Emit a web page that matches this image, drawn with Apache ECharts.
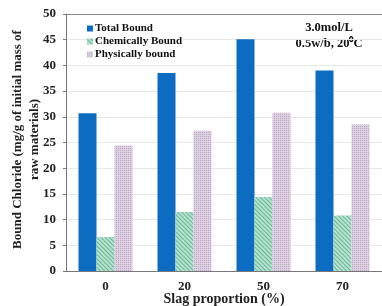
<!DOCTYPE html>
<html>
<head>
<meta charset="utf-8">
<script src="https://cdn.jsdelivr.net/npm/echarts@6/dist/echarts.min.js"></script>
<style>
  html, body { margin: 0; padding: 0; background: #fff; }
  #main { width: 382px; height: 306px; }
</style>
</head>
<body>
<div id="main"></div>
<script>
// 矿渣掺量
var categories = ['0', '20', '50', '70'];
// 结合氯离子数据 (mg/g)
var totalBound = [30.7, 38.5, 45.1, 39.0];
var chemBound = [6.6, 11.5, 14.4, 10.8];
var physBound = [24.4, 27.3, 30.8, 28.5];

var serif = 'Liberation Serif';
var myChart = echarts.init(document.getElementById('main'));

var option = {
    animation: false,
    backgroundColor: '#fff',
    grid: { left: 66, right: 0, top: 14, bottom: 35, outerBoundsMode: 'none', containLabel: false },
    legend: {
        orient: 'vertical',
        left: 82,
        top: 18,
        itemWidth: 6,
        itemHeight: 6,
        itemGap: 2,
        icon: 'rect',
        textStyle: { fontFamily: serif, fontWeight: 'bold', fontSize: 11, color: '#111', padding: [0, 0, 0, -3] },
        data: ['Total Bound', 'Chemically Bound', 'Physically bound']
    },
    graphic: [{
        type: 'text',
        x: 329,
        y: 21,
        style: {
            text: '3.0mol/L',
            font: 'bold 12.5px "Liberation Serif"',
            fill: '#111',
            align: 'center'
        }
    }, {
        type: 'text',
        x: 329,
        y: 37,
        style: {
            text: '0.5w/b, 20\u2070C',
            font: 'bold 12.5px "Liberation Serif"',
            fill: '#111',
            align: 'center'
        }
    }],
    xAxis: [{
        type: 'category',
        data: categories,
        axisLine: { lineStyle: { color: '#777', width: 1 } },
        axisTick: { show: false },
        axisLabel: { fontFamily: serif, fontWeight: 'bold', fontSize: 13, color: '#222', margin: 9 },
        name: 'Slag proportion (%)',
        nameLocation: 'middle',
        nameGap: 21,
        nameMoveOverlap: false,
        nameTextStyle: { fontFamily: serif, fontWeight: 'bold', fontSize: 14, color: '#222' }
    }, {
        type: 'category',
        position: 'top',
        data: categories,
        axisLine: { lineStyle: { color: '#888', width: 1 } },
        axisTick: { show: false },
        axisLabel: { show: false }
    }],
    yAxis: {
        type: 'value',
        min: 0,
        max: 50,
        interval: 5,
        axisLine: { show: true, lineStyle: { color: '#777', width: 1 } },
        axisTick: { show: true, inside: false, length: 3, lineStyle: { color: '#777' } },
        axisLabel: { fontFamily: serif, fontWeight: 'bold', fontSize: 13, color: '#222', margin: 10 },
        splitLine: { lineStyle: { color: '#e8e8e8' } },
        name: 'Bound Chloride (mg/g of initial mass of\nraw materials)',
        nameLocation: 'middle',
        nameGap: 23,
        nameMoveOverlap: false,
        nameTextStyle: { fontFamily: serif, fontWeight: 'bold', fontSize: 13, color: '#222', lineHeight: 17, padding: [0, 0, 0, 6] }
    },
    series: [{
        name: 'Total Bound',
        type: 'bar',
        barWidth: 18,
        barGap: '0%',
        itemStyle: { color: '#0b6cc2' },
        data: totalBound
    }, {
        name: 'Chemically Bound',
        type: 'bar',
        barWidth: 18,
        barGap: '0%',
        itemStyle: {
            color: '#b4e2cc',
            decal: {
                symbol: 'rect',
                color: 'rgba(50,150,110,0.55)',
                dashArrayX: [1, 0],
                dashArrayY: [1, 2],
                rotation: Math.PI / 4
            }
        },
        data: chemBound
    }, {
        name: 'Physically bound',
        type: 'bar',
        barWidth: 18,
        barGap: '0%',
        itemStyle: {
            color: '#ddd0e2',
            decal: {
                symbol: 'rect',
                symbolSize: 1,
                color: 'rgba(150,120,160,0.45)',
                dashArrayX: [1, 1],
                dashArrayY: [1, 1],
                rotation: 0
            }
        },
        data: physBound
    }]
};

myChart.setOption(option);
</script>
</body>
</html>
